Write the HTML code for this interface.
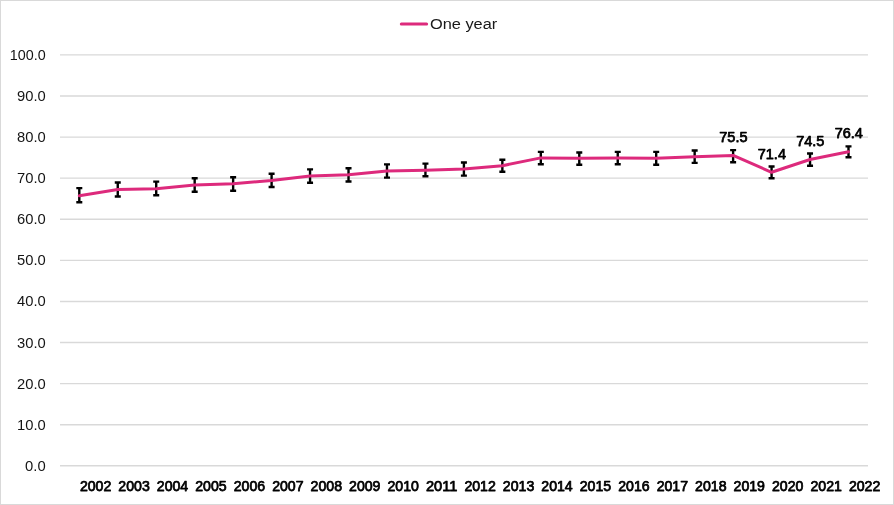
<!DOCTYPE html>
<html><head><meta charset="utf-8"><title>One year</title>
<style>
html,body{margin:0;padding:0;background:#fff;}
svg{display:block;will-change:transform;}
text{font-family:"Liberation Sans",Arial,sans-serif;}
.yl{font-size:15px;fill:#141414;}
.xl{font-size:14.2px;font-weight:normal;fill:#000;stroke:#000;stroke-width:0.75px;stroke-linejoin:round;}
.dl{font-size:14.2px;font-weight:normal;fill:#000;stroke:#000;stroke-width:0.75px;stroke-linejoin:round;}
.lg{font-size:15.5px;fill:#1a1a1a;}
</style></head>
<body>
<svg width="894" height="505" viewBox="0 0 894 505">
<rect x="0.5" y="0.5" width="893" height="504" fill="#fff" stroke="#d9d9d9" stroke-width="1"/>
<line x1="60" y1="54.90" x2="868" y2="54.90" stroke="#d9d9d9" stroke-width="1.4"/>
<line x1="60" y1="95.99" x2="868" y2="95.99" stroke="#d9d9d9" stroke-width="1.4"/>
<line x1="60" y1="137.08" x2="868" y2="137.08" stroke="#d9d9d9" stroke-width="1.4"/>
<line x1="60" y1="178.17" x2="868" y2="178.17" stroke="#d9d9d9" stroke-width="1.4"/>
<line x1="60" y1="219.26" x2="868" y2="219.26" stroke="#d9d9d9" stroke-width="1.4"/>
<line x1="60" y1="260.35" x2="868" y2="260.35" stroke="#d9d9d9" stroke-width="1.4"/>
<line x1="60" y1="301.44" x2="868" y2="301.44" stroke="#d9d9d9" stroke-width="1.4"/>
<line x1="60" y1="342.53" x2="868" y2="342.53" stroke="#d9d9d9" stroke-width="1.4"/>
<line x1="60" y1="383.62" x2="868" y2="383.62" stroke="#d9d9d9" stroke-width="1.4"/>
<line x1="60" y1="424.71" x2="868" y2="424.71" stroke="#d9d9d9" stroke-width="1.4"/>
<line x1="60" y1="465.80" x2="868" y2="465.80" stroke="#d9d9d9" stroke-width="1.4"/>
<text x="45.7" y="59.90" text-anchor="end" class="yl" textLength="35.9" lengthAdjust="spacingAndGlyphs">100.0</text>
<text x="45.7" y="100.99" text-anchor="end" class="yl" textLength="28.7" lengthAdjust="spacingAndGlyphs">90.0</text>
<text x="45.7" y="142.08" text-anchor="end" class="yl" textLength="28.7" lengthAdjust="spacingAndGlyphs">80.0</text>
<text x="45.7" y="183.17" text-anchor="end" class="yl" textLength="28.7" lengthAdjust="spacingAndGlyphs">70.0</text>
<text x="45.7" y="224.26" text-anchor="end" class="yl" textLength="28.7" lengthAdjust="spacingAndGlyphs">60.0</text>
<text x="45.7" y="265.35" text-anchor="end" class="yl" textLength="28.7" lengthAdjust="spacingAndGlyphs">50.0</text>
<text x="45.7" y="306.44" text-anchor="end" class="yl" textLength="28.7" lengthAdjust="spacingAndGlyphs">40.0</text>
<text x="45.7" y="347.53" text-anchor="end" class="yl" textLength="28.7" lengthAdjust="spacingAndGlyphs">30.0</text>
<text x="45.7" y="388.62" text-anchor="end" class="yl" textLength="28.7" lengthAdjust="spacingAndGlyphs">20.0</text>
<text x="45.7" y="429.71" text-anchor="end" class="yl" textLength="28.7" lengthAdjust="spacingAndGlyphs">10.0</text>
<text x="45.7" y="470.80" text-anchor="end" class="yl" textLength="20.6" lengthAdjust="spacingAndGlyphs">0.0</text>
<text x="79.90" y="491.0" class="xl" textLength="31.4" lengthAdjust="spacingAndGlyphs">2002</text>
<text x="118.35" y="491.0" class="xl" textLength="31.4" lengthAdjust="spacingAndGlyphs">2003</text>
<text x="156.80" y="491.0" class="xl" textLength="31.4" lengthAdjust="spacingAndGlyphs">2004</text>
<text x="195.25" y="491.0" class="xl" textLength="31.4" lengthAdjust="spacingAndGlyphs">2005</text>
<text x="233.70" y="491.0" class="xl" textLength="31.4" lengthAdjust="spacingAndGlyphs">2006</text>
<text x="272.15" y="491.0" class="xl" textLength="31.4" lengthAdjust="spacingAndGlyphs">2007</text>
<text x="310.60" y="491.0" class="xl" textLength="31.4" lengthAdjust="spacingAndGlyphs">2008</text>
<text x="349.05" y="491.0" class="xl" textLength="31.4" lengthAdjust="spacingAndGlyphs">2009</text>
<text x="387.50" y="491.0" class="xl" textLength="31.4" lengthAdjust="spacingAndGlyphs">2010</text>
<text x="425.95" y="491.0" class="xl" textLength="31.4" lengthAdjust="spacingAndGlyphs">2011</text>
<text x="464.40" y="491.0" class="xl" textLength="31.4" lengthAdjust="spacingAndGlyphs">2012</text>
<text x="502.85" y="491.0" class="xl" textLength="31.4" lengthAdjust="spacingAndGlyphs">2013</text>
<text x="541.30" y="491.0" class="xl" textLength="31.4" lengthAdjust="spacingAndGlyphs">2014</text>
<text x="579.75" y="491.0" class="xl" textLength="31.4" lengthAdjust="spacingAndGlyphs">2015</text>
<text x="618.20" y="491.0" class="xl" textLength="31.4" lengthAdjust="spacingAndGlyphs">2016</text>
<text x="656.65" y="491.0" class="xl" textLength="31.4" lengthAdjust="spacingAndGlyphs">2017</text>
<text x="695.10" y="491.0" class="xl" textLength="31.4" lengthAdjust="spacingAndGlyphs">2018</text>
<text x="733.55" y="491.0" class="xl" textLength="31.4" lengthAdjust="spacingAndGlyphs">2019</text>
<text x="772.00" y="491.0" class="xl" textLength="31.4" lengthAdjust="spacingAndGlyphs">2020</text>
<text x="810.45" y="491.0" class="xl" textLength="31.4" lengthAdjust="spacingAndGlyphs">2021</text>
<text x="848.90" y="491.0" class="xl" textLength="31.4" lengthAdjust="spacingAndGlyphs">2022</text>
<path d="M79.30 188.10V202.30M76.30 188.10H82.30M76.30 202.30H82.30 M117.76 182.55V196.50M114.76 182.55H120.76M114.76 196.50H120.76 M156.22 181.60V195.30M153.22 181.60H159.22M153.22 195.30H159.22 M194.68 178.20V191.70M191.68 178.20H197.68M191.68 191.70H197.68 M233.14 177.30V190.70M230.14 177.30H236.14M230.14 190.70H236.14 M271.60 173.70V187.00M268.60 173.70H274.60M268.60 187.00H274.60 M310.06 169.40V182.80M307.06 169.40H313.06M307.06 182.80H313.06 M348.52 168.20V181.50M345.52 168.20H351.52M345.52 181.50H351.52 M386.98 164.40V177.60M383.98 164.40H389.98M383.98 177.60H389.98 M425.44 163.65V176.20M422.44 163.65H428.44M422.44 176.20H428.44 M463.90 162.50V175.60M460.90 162.50H466.90M460.90 175.60H466.90 M502.36 159.70V171.70M499.36 159.70H505.36M499.36 171.70H505.36 M540.82 151.90V164.30M537.82 151.90H543.82M537.82 164.30H543.82 M579.28 152.50V164.70M576.28 152.50H582.28M576.28 164.70H582.28 M617.74 151.90V164.20M614.74 151.90H620.74M614.74 164.20H620.74 M656.20 151.90V164.70M653.20 151.90H659.20M653.20 164.70H659.20 M694.66 150.50V162.90M691.66 150.50H697.66M691.66 162.90H697.66 M733.12 150.16V162.30M730.12 150.16H736.12M730.12 162.30H736.12 M771.58 166.50V178.30M768.58 166.50H774.58M768.58 178.30H774.58 M810.04 153.50V165.70M807.04 153.50H813.04M807.04 165.70H813.04 M848.50 146.40V157.20M845.50 146.40H851.50M845.50 157.20H851.50" stroke="#000" stroke-width="2.4" fill="none"/>
<polyline points="79.30,195.67 117.76,189.51 156.22,188.69 194.68,184.99 233.14,183.76 271.60,180.47 310.06,175.96 348.52,174.72 386.98,171.03 425.44,170.21 463.90,168.97 502.36,165.69 540.82,157.89 579.28,158.30 617.74,157.89 656.20,158.30 694.66,156.65 733.12,155.42 771.58,172.26 810.04,159.53 848.50,151.73" fill="none" stroke="#dd2a7c" stroke-width="3" stroke-linejoin="round" stroke-linecap="round"/>
<text x="733.42" y="141.82" text-anchor="middle" class="dl" textLength="28.2" lengthAdjust="spacingAndGlyphs">75.5</text>
<text x="771.88" y="158.66" text-anchor="middle" class="dl" textLength="28.2" lengthAdjust="spacingAndGlyphs">71.4</text>
<text x="810.34" y="145.93" text-anchor="middle" class="dl" textLength="28.2" lengthAdjust="spacingAndGlyphs">74.5</text>
<text x="848.80" y="138.13" text-anchor="middle" class="dl" textLength="28.2" lengthAdjust="spacingAndGlyphs">76.4</text>
<line x1="401.3" y1="23.9" x2="426.6" y2="23.9" stroke="#dd2a7c" stroke-width="3" stroke-linecap="round"/>
<text x="429.9" y="28.9" class="lg" textLength="67.4" lengthAdjust="spacingAndGlyphs">One year</text>
</svg>
</body></html>
